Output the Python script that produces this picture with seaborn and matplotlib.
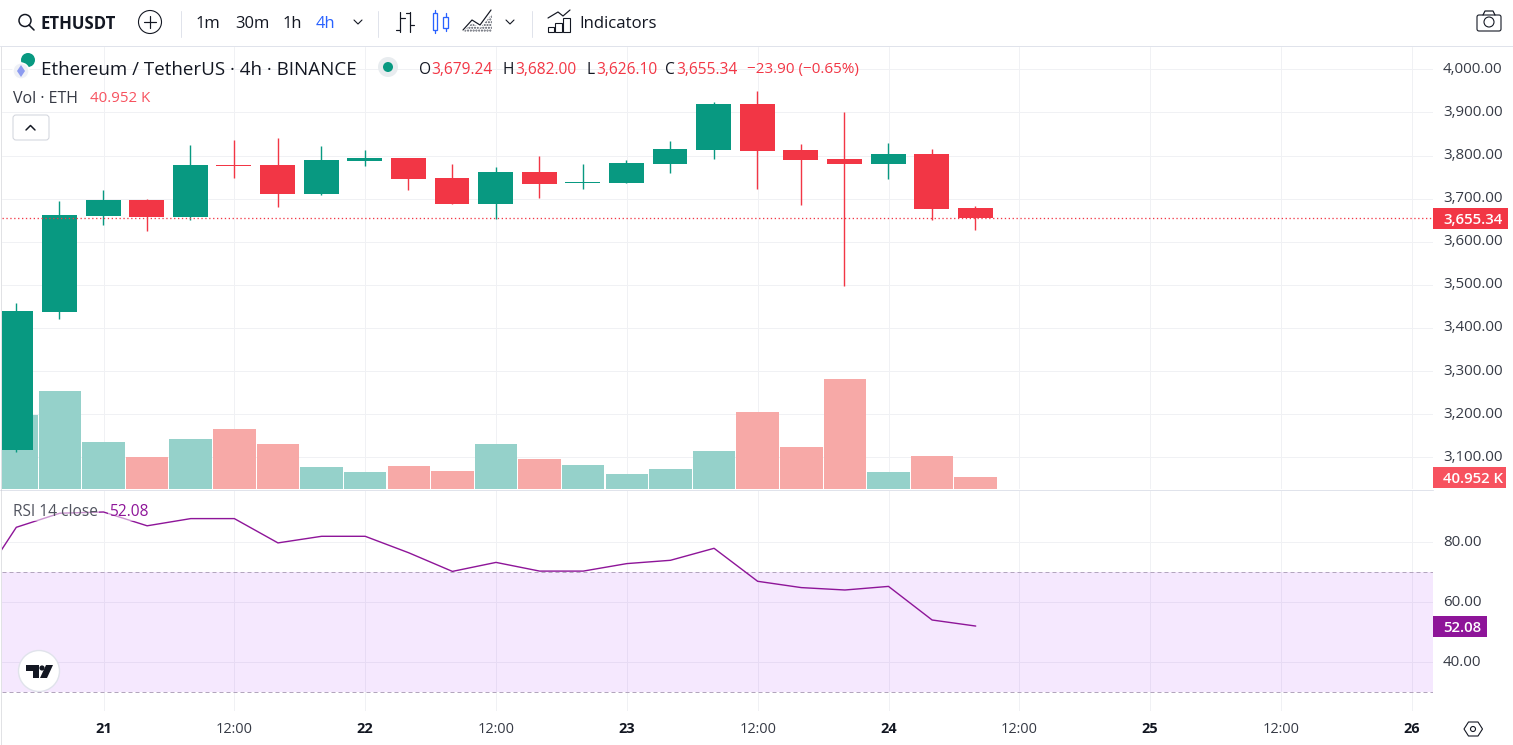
import matplotlib
matplotlib.use("Agg")
import matplotlib.pyplot as plt
from matplotlib.patches import Circle, FancyBboxPatch, Polygon, Rectangle
import pandas as pd
import seaborn as sns

# =========================
# DATA
# =========================

opens = [3117, 3437, 3660, 3697, 3657, 3778, 3778, 3711, 3787, 3794, 3748, 3688,
         3762, 3737, 3736, 3780, 3813, 3920, 3813, 3792, 3780, 3804, 3679.24]
highs = [3457, 3694, 3720, 3699, 3824, 3836, 3841, 3822, 3813, 3794, 3780, 3773,
         3799, 3780, 3790, 3834, 3924, 3950, 3827, 3901, 3829, 3815, 3682.00]
lows = [3113, 3421, 3639, 3625, 3650, 3748, 3681, 3708, 3776, 3720, 3688, 3653,
        3701, 3723, 3736, 3759, 3792, 3722, 3685, 3498, 3746, 3650, 3626.10]
closes = [3439, 3662, 3697, 3657, 3778, 3776, 3711, 3790, 3794, 3746, 3688, 3762,
          3734, 3739, 3783, 3815, 3920, 3811, 3790, 3780, 3804, 3676, 3655.34]
volumes = [252, 334, 160, 109, 170, 205, 153, 75, 58, 78, 61, 153,
           102, 82, 51, 68, 130, 263, 143, 375, 58, 113, 40.952]
rsi_values = [62.8, 85.0, 89.7, 90.1, 85.5, 87.9, 87.9, 79.8, 82.0, 82.0, 76.5, 70.3, 73.3,
              70.4, 70.4, 72.9, 74.0, 78.0, 67.0, 64.9, 64.1, 65.3, 54.1, 52.08]

price_ticks = [3100, 3200, 3300, 3400, 3500, 3600, 3700, 3800, 3900, 4000]
rsi_ticks = [40, 60, 80]
time_ticks = [2, 5, 8, 11, 14, 17, 20, 23, 26, 29, 32]
time_labels = ["21", "12:00", "22", "12:00", "23", "12:00", "24", "12:00", "25", "12:00", "26"]

last_price = 3655.34
rsi_upper = 70
rsi_lower = 30

# =========================
# STYLE
# =========================

UP = "#089981"
DOWN = "#F23645"
VOL_UP = "#95D1CA"
VOL_DOWN = "#F7A9A7"
PURPLE = "#8E1599"
GRID = "#F0F1F4"
DARK = "#131722"
FONT = "Open Sans"
W, H = 1513, 745
PX = 0.72

sns.set_theme(style="white")
plt.rcParams["font.family"] = [FONT, "DejaVu Sans"]

fig = plt.figure(figsize=(W / 100, H / 100), dpi=100, facecolor="white")


def pane(top, bottom, z):
    return fig.add_axes([2 / W, 1 - bottom / H, 1431 / W, (bottom - top) / H], zorder=z)


def price_y(px):
    return 4000 - (px - 69.3) / 0.4311


def rsi_y(px):
    return 80 - (px - 542.3) / 3


x_min = (2 - 16.3) / 43.61
x_max = (1433 - 16.3) / 43.61
idx = list(range(len(closes)))

# =========================
# PRICE PANE (grid and labels)
# =========================

ax_price = pane(47, 489, 1)
ax_price.set_xlim(x_min, x_max)
ax_price.set_ylim(price_y(489), price_y(47))
ax_price.yaxis.tick_right()
ax_price.set_yticks(price_ticks)
ax_price.set_yticklabels([f"{t:,.2f}" for t in price_ticks])
ax_price.set_xticks(time_ticks)
ax_price.set_xticklabels([])
ax_price.tick_params(axis="y", length=0, pad=10 * PX, labelsize=15 * PX, labelcolor="#363A45")
ax_price.tick_params(axis="x", length=0)
ax_price.grid(True, color=GRID, lw=1 * PX)
sns.despine(ax=ax_price, left=True, right=True, top=True, bottom=True)

# =========================
# VOLUME
# =========================

vol_df = pd.DataFrame({
    "idx": idx,
    "volume": volumes,
    "side": ["up" if c >= o else "down" for o, c in zip(opens, closes)],
})

ax_vol = pane(47, 489, 2)
ax_vol.patch.set_alpha(0)
sns.barplot(
    data=vol_df, x="idx", y="volume", hue="side", dodge=False, native_scale=True,
    palette={"up": VOL_UP, "down": VOL_DOWN}, saturation=1, width=0.975,
    linewidth=0, legend=False, ax=ax_vol,
)
ax_vol.set_xlim(x_min, x_max)
ax_vol.set_ylim(0, 442 * 40.952 / 12)
ax_vol.axis("off")

# =========================
# CANDLES
# =========================

ax_candle = pane(47, 489, 3)
ax_candle.patch.set_alpha(0)
ax_candle.set_xlim(x_min, x_max)
ax_candle.set_ylim(price_y(489), price_y(47))
ax_candle.axis("off")

for i, (o, h, l, c) in enumerate(zip(opens, highs, lows, closes)):
    color = UP if c >= o else DOWN
    ax_candle.vlines(i - 0.01, l, h, color=color, lw=1.4 * PX, zorder=2)
    ax_candle.bar(i - 0.01, abs(c - o), bottom=min(o, c), width=0.8, color=color, linewidth=0, zorder=3)

ax_candle.axhline(last_price, color=DOWN, lw=1.3 * PX, ls=(0, (1, 2)), zorder=4)

# =========================
# RSI PANE
# =========================

ax_rsi = pane(490, 711, 1)
sns.lineplot(x=list(range(-1, len(closes))), y=rsi_values, color=PURPLE, lw=1.4 * PX, ax=ax_rsi, zorder=5)
ax_rsi.axhspan(rsi_lower, rsi_upper, color="#9105F5", alpha=0.09, lw=0, zorder=3)
for level in (rsi_upper, rsi_lower):
    ax_rsi.axhline(level, color="#B2A5BD", lw=1 * PX, ls=(0, (4, 3)), zorder=4)
ax_rsi.set_xlim(x_min, x_max)
ax_rsi.set_ylim(rsi_y(711), rsi_y(490))
ax_rsi.yaxis.tick_right()
ax_rsi.set_yticks(rsi_ticks)
ax_rsi.set_yticklabels([f"{t:.2f}" for t in rsi_ticks])
ax_rsi.set_xticks(time_ticks)
ax_rsi.set_xticklabels(time_labels)
ax_rsi.tick_params(axis="y", length=0, pad=10 * PX, labelsize=15 * PX, labelcolor="#363A45")
ax_rsi.tick_params(axis="x", length=0, pad=11 * PX, labelsize=14.5 * PX, labelcolor="#363A45")
for label in ax_rsi.get_xticklabels():
    if ":" not in label.get_text():
        label.set_fontweight("bold")
        label.set_color(DARK)
ax_rsi.grid(True, color=GRID, lw=1 * PX, zorder=1)
ax_rsi.set_axisbelow(True)
sns.despine(ax=ax_rsi, left=True, right=True, top=True, bottom=True)

for axis in (ax_price, ax_rsi):
    for label in axis.get_yticklabels():
        label.set_y(label.get_position()[1])
        label.set_verticalalignment("center")

# =========================
# OVERLAY IN PIXELS (toolbar, legend, price tags)
# =========================

ui = fig.add_axes([0, 0, 1, 1], zorder=10)
ui.patch.set_alpha(0)
ui.set_xlim(0, W)
ui.set_ylim(H, 0)
ui.axis("off")


def txt(x, y, s, size=15.5, color=DARK, weight="normal", ha="left", **kw):
    return ui.text(x, y, s, fontsize=size * PX, color=color, fontweight=weight, ha=ha,
                   va="center_baseline", **kw)


def seg(xs, ys, color=DARK, lw=1.2, **kw):
    ui.plot(xs, ys, color=color, lw=lw * PX, solid_capstyle="round", **kw)


def tag(x0, x1, y0, y1, s, color):
    ui.add_patch(Rectangle((x0, y0), x1 - x0, y1 - y0, facecolor=color, edgecolor="none"))
    txt(x0 + 10, (y0 + y1) / 2, s, size=15, color="white", weight="semibold")


def chevron(x, y):
    seg([x - 4, x, x + 4], [y - 2, y + 2, y - 2], color=DARK, lw=1.1)


# panes borders
seg([0, W], [46, 46], color="#E0E3EB", lw=1)
seg([0, 1433], [489.5, 489.5], color="#E0E3EB", lw=1)
seg([1, 1], [47, H], color="#C4C6CC", lw=1, ls=(0, (1, 1)))

# toolbar
ui.add_patch(Circle((25, 20.5), 6, fill=False, ec=DARK, lw=1.5 * PX))
seg([29, 34], [25, 30], lw=1.6)
txt(40, 22, "ETHUSDT", size=16.8, weight="bold")
ui.add_patch(Circle((150, 22), 11.5, fill=False, ec=DARK, lw=1.1 * PX))
seg([144, 156], [22, 22])
seg([150, 150], [16, 28])
for x in (181, 378, 532):
    seg([x, x], [11, 37], color="#E0E3EB", lw=1)
for x, s, c in [(196, "1m", DARK), (235, "30m", DARK), (283, "1h", DARK), (316, "4h", "#2962FF")]:
    txt(x, 22, s, size=16.5, color=c)
chevron(358, 22)

# bars icon
seg([400, 400], [12, 32])
seg([396, 400], [30, 30])
seg([400, 405], [18, 18])
seg([410, 410], [12, 32])
seg([406, 410], [13, 13])
seg([410, 414], [25, 25])

# candles icon
BLUE = "#2962FF"
seg([434.5, 434.5], [10, 33], color=BLUE, lw=1.3)
ui.add_patch(Rectangle((432.5, 13), 4, 17, facecolor="white", ec=BLUE, lw=1.3 * PX, zorder=3))
seg([445.5, 445.5], [13, 31], color=BLUE, lw=1.3)
ui.add_patch(Rectangle((443, 17), 5, 11, facecolor="white", ec=BLUE, lw=1.3 * PX, zorder=3))

# area icon
ui.add_patch(Polygon([(463, 32), (472, 23), (480, 28), (492, 14), (492, 32)],
                     facecolor="white", edgecolor="#4A4E5A", hatch="......", lw=0))
seg([463, 472, 480, 491], [30, 20, 25, 10])
chevron(510, 22)

# indicators icon
seg([548, 558, 563, 570], [18, 12, 16, 10])
for x0, x1, top in [(548, 554, 27), (555, 562, 23), (563, 570, 18)]:
    ui.add_patch(Rectangle((x0, top), x1 - x0, 32 - top, fill=False, ec=DARK, lw=1.1 * PX))
txt(579, 22, "Indicators", size=16.8)

# camera icon
ui.add_patch(FancyBboxPatch((1477, 15), 24, 16, boxstyle="round,pad=0,rounding_size=2",
                            fill=False, ec=DARK, lw=1.1 * PX))
seg([1483, 1485, 1493, 1495], [15, 11, 11, 15])
ui.add_patch(Circle((1489, 22), 5, fill=False, ec=DARK, lw=1.1 * PX))

# legend
ui.add_patch(Circle((28, 60), 7, facecolor=UP, edgecolor="none"))
ui.add_patch(Circle((21, 71), 8, facecolor="#EEF0F6", edgecolor="white", lw=1))
ui.add_patch(Polygon([(21, 65), (25, 71), (21, 77), (17, 71)], facecolor="#8C9BF0", edgecolor="none"))
ui.add_patch(Circle((388, 67), 10, facecolor="#E8ECEF", edgecolor="none"))
ui.add_patch(Circle((388, 67), 5, facecolor=UP, edgecolor="none"))

txt(41, 68, "Ethereum / TetherUS · 4h · BINANCE", size=18.8)
txt(419, 68, "O")
txt(431, 68, "3,679.24", color=DOWN)
txt(503, 68, "H")
txt(515, 68, "3,682.00", color=DOWN)
txt(586, 68, "L")
txt(596, 68, "3,626.10", color=DOWN)
txt(665, 68, "C")
txt(676, 68, "3,655.34", color=DOWN)
txt(747, 68, "−23.90 (−0.65%)", size=15.3, color=DOWN)

txt(13, 97, "Vol · ETH", size=16, color="#363A45")
txt(90, 97, "40.952 K", size=15, color="#F7525F")

ui.add_patch(FancyBboxPatch((13, 115), 36, 25, boxstyle="round,pad=0,rounding_size=3",
                            facecolor="white", edgecolor="#D1D4DC", lw=1 * PX))
seg([26, 30.5, 35], [130, 125.5, 130], lw=1.5)

bg = dict(facecolor="white", alpha=0.55, edgecolor="none", pad=1)
txt(13, 510, "RSI 14 close", color="#50535E", bbox=bg)
txt(109, 510, "52.08", color=PURPLE, bbox=bg)

# price tags
tag(1433, 1508, 208, 229, "3,655.34", DOWN)
tag(1433, 1506, 467, 488, "40.952 K", "#F7525F")
tag(1433, 1487, 616, 637, "52.08", PURPLE)

# watermark logo
ui.add_patch(Circle((39, 671), 20.5, facecolor="white", edgecolor="#E0E3EB", lw=1))
ui.add_patch(Polygon([(26, 665), (39, 665), (39, 678), (33, 678), (33, 671), (26, 671)],
                     facecolor=DARK, edgecolor="none"))
ui.add_patch(Circle((42, 668), 2.6, facecolor=DARK, edgecolor="none"))
ui.add_patch(Polygon([(46, 665), (53, 665), (47, 678), (40, 678)], facecolor=DARK, edgecolor="none"))

# settings icon
ui.add_patch(Polygon([(1464, 729), (1468.5, 722), (1478, 722), (1482.5, 729), (1478, 736), (1468.5, 736)],
                     closed=True, fill=False, ec=DARK, lw=1.1 * PX))
ui.add_patch(Circle((1473, 729), 2.5, fill=False, ec=DARK, lw=1.1 * PX))

fig.savefig("out.png", dpi=100)
